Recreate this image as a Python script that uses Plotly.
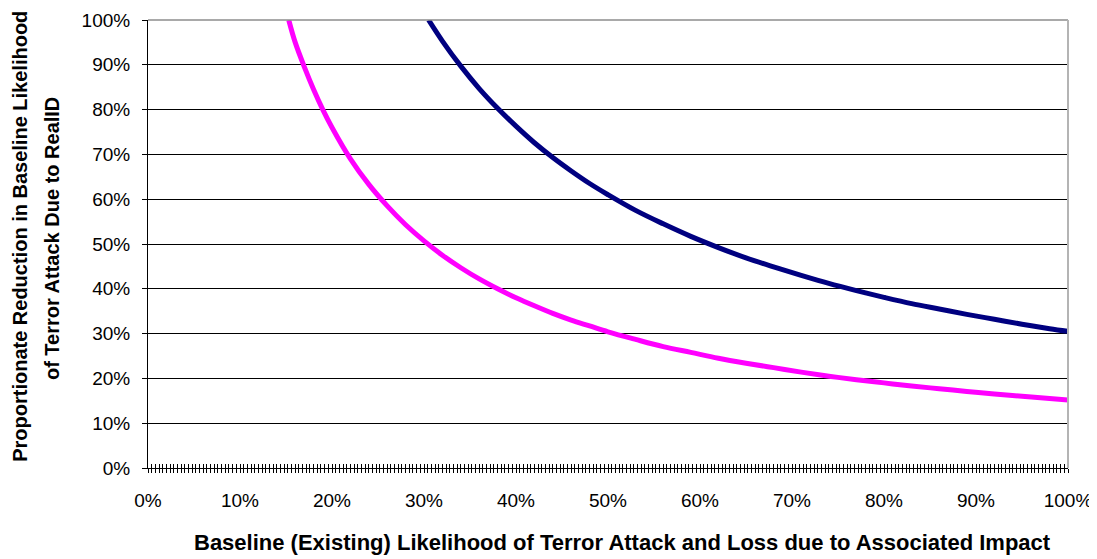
import plotly.graph_objects as go

# Baseline likelihood (%)
magenta_x = [15.3, 16, 17, 18, 19, 20, 22, 24, 26, 28, 30, 32, 34, 36, 38, 40, 42, 44, 46, 48, 50,
             53, 56, 59, 62, 65, 68, 71, 74, 77, 80, 83, 86, 89, 92, 95, 98, 100]
magenta_y = [100, 95, 89.5, 84.5, 80, 76, 69, 63.3, 58.5, 54.3, 50.7, 47.5, 44.7, 42.2, 40, 38, 36.2,
             34.5, 33, 31.7, 30.4, 28.7, 27.1, 25.8, 24.5, 23.4, 22.4, 21.4, 20.5, 19.7, 19, 18.3,
             17.7, 17.1, 16.5, 16, 15.5, 15.2]

navy_x = [30.5, 32, 34, 36, 38, 40, 42, 44, 46, 48, 50, 53, 56, 59, 62, 65, 68, 71, 74, 77, 80,
          83, 86, 89, 92, 95, 98, 100]
navy_y = [100, 95.3, 89.7, 84.7, 80.3, 76.3, 72.6, 69.3, 66.3, 63.5, 61, 57.5, 54.5, 51.7, 49.2,
          46.9, 44.9, 43, 41.2, 39.6, 38.1, 36.7, 35.5, 34.3, 33.2, 32.1, 31.1, 30.5]

x_ticks = [0, 10, 20, 30, 40, 50, 60, 70, 80, 90, 100]
y_ticks = [0, 10, 20, 30, 40, 50, 60, 70, 80, 90, 100]

FONT = "Liberation Sans, Arial, sans-serif"

fig = go.Figure()
fig.add_trace(go.Scatter(x=[v / 100 for v in magenta_x], y=[v / 100 for v in magenta_y],
                         mode="lines", line=dict(color="#FF00FF", width=5, shape="spline"),
                         showlegend=False))
fig.add_trace(go.Scatter(x=[v / 100 for v in navy_x], y=[v / 100 for v in navy_y],
                         mode="lines", line=dict(color="#000080", width=5, shape="spline"),
                         showlegend=False))
# invisible trace to activate overlay axis for crossing ticks
fig.add_trace(go.Scatter(x=[0, 1], y=[0, 0], xaxis="x2", mode="lines",
                         line=dict(width=0), hoverinfo="skip", showlegend=False))

fig.update_layout(
    width=1089, height=551,
    margin=dict(l=140, r=29, t=12, b=91, autoexpand=False),
    plot_bgcolor="white", paper_bgcolor="white",
    font=dict(family=FONT, size=19, color="black"),
    xaxis=dict(range=[0, 1], tickvals=[v / 100 for v in x_ticks],
               ticktext=[f"{v}%" for v in x_ticks],
               ticks="outside", ticklen=4, tickcolor="black", tickwidth=1,
               minor=dict(dtick=0.004, ticks="outside", ticklen=4, tickcolor="black",
                          tickwidth=1, showgrid=False),
               showline=True, linecolor="black", linewidth=1, automargin=False,
               showgrid=False, zeroline=False, ticklabelstandoff=11,
               tickfont=dict(size=19)),
    xaxis2=dict(range=[0, 1], overlaying="x", side="bottom", anchor="y",
                tickvals=[v / 100 for v in x_ticks], showticklabels=False,
                ticks="inside", ticklen=4, tickcolor="black", tickwidth=1,
                minor=dict(dtick=0.004, ticks="inside", ticklen=4, tickcolor="black",
                           tickwidth=1, showgrid=False), automargin=False,
                showline=False, showgrid=False, zeroline=False),
    yaxis=dict(range=[0, 1], tickvals=[v / 100 for v in y_ticks],
               ticktext=[f"{v}%" for v in y_ticks],
               ticks="outside", ticklen=5, tickcolor="black", automargin=False,
               showline=True, linecolor="black", linewidth=1,
               showgrid=True, gridcolor="black", gridwidth=1, zeroline=False,
               ticklabelstandoff=8, tickfont=dict(size=19)),
    shapes=[dict(type="line", xref="paper", yref="paper", x0=0, x1=1, y0=1, y1=1,
                 line=dict(color="#8c8c8c", width=1.5)),
            dict(type="line", xref="paper", yref="paper", x0=1, x1=1, y0=0, y1=1,
                 line=dict(color="#b4b4b4", width=2))],
    annotations=[
        dict(text="<b>Baseline (Existing) Likelihood of Terror Attack and Loss due to Associated Impact</b>",
             xref="paper", yref="paper", x=0.516, y=0, yshift=-74, xanchor="center",
             yanchor="middle", showarrow=False, font=dict(size=22)),
        dict(text="<b>Proportionate Reduction in Baseline Likelihood</b>",
             xref="paper", yref="paper", x=0, y=0.516, xshift=-128, xanchor="center",
             yanchor="middle", textangle=-90, showarrow=False, font=dict(size=20)),
        dict(text="<b>of Terror Attack Due to RealID</b>",
             xref="paper", yref="paper", x=0, y=0.511, xshift=-96, xanchor="center",
             yanchor="middle", textangle=-90, showarrow=False, font=dict(size=20)),
    ],
)

fig.write_html("out.html")
